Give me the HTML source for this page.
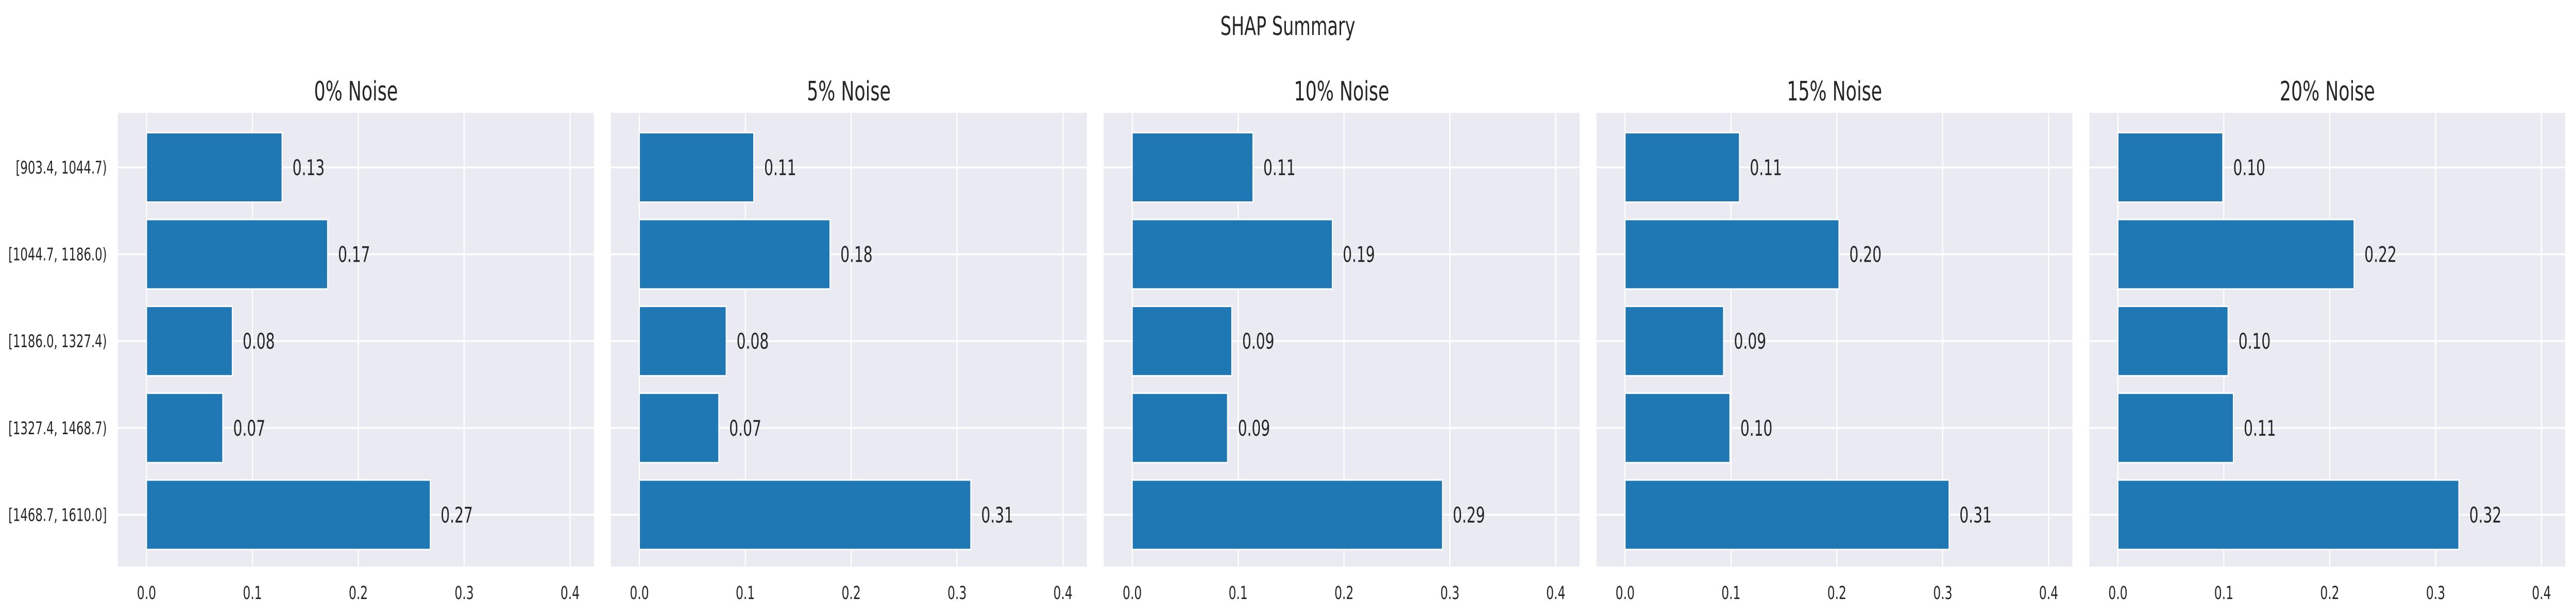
<!DOCTYPE html>
<html><head><meta charset="utf-8"><style>
html,body{margin:0;padding:0;background:#fff;overflow:hidden;width:100vw;height:100vh;}
svg{display:block;width:100vw;height:100vh;font-family:"DejaVu Sans","Liberation Sans",sans-serif;}
</style></head><body>
<svg id="chart" viewBox="0 0 7469 1194" preserveAspectRatio="none" xmlns="http://www.w3.org/2000/svg">
<text x="3734" y="68" text-anchor="middle" font-size="50" fill="#262626">SHAP Summary</text>
</svg>
<script>
const categories = ["[903.4, 1044.7)", "[1044.7, 1186.0)", "[1186.0, 1327.4)", "[1327.4, 1468.7)", "[1468.7, 1610.0]"];
const panelTitles = ["0% Noise", "5% Noise", "10% Noise", "15% Noise", "20% Noise"];
const noise0 = [0.128, 0.171, 0.081, 0.072, 0.268];
const noise5 = [0.108, 0.180, 0.082, 0.075, 0.313];
const noise10 = [0.114, 0.189, 0.094, 0.090, 0.293];
const noise15 = [0.108, 0.202, 0.093, 0.099, 0.306];
const noise20 = [0.099, 0.223, 0.104, 0.109, 0.322];
const xTicks = [0.0, 0.1, 0.2, 0.3, 0.4];
const xTickLabels = ["0.0", "0.1", "0.2", "0.3", "0.4"];

const series = [noise0, noise5, noise10, noise15, noise20];
const NS = "http://www.w3.org/2000/svg";
const svg = document.getElementById("chart");
const axTop = 219, axBottom = 1100, axW = 1380, panelStep = 1429, firstLeft = 342;
const xMin = -0.027, xMax = 0.4225;
const rowTop = 325, rowStep = 168.6, barH = 135;

function mk(tag, attrs) {
  const e = document.createElementNS(NS, tag);
  for (const k in attrs) e.setAttribute(k, attrs[k]);
  svg.appendChild(e);
  return e;
}

series.forEach((vals, p) => {
  const left = firstLeft + p * panelStep;
  const xs = v => left + (v - xMin) / (xMax - xMin) * axW;
  const ys = i => rowTop + i * rowStep;

  const bg = mk("rect", {x: left, y: axTop, width: axW, height: axBottom - axTop, fill: "#eaeaf2"});
  
  

  xTicks.forEach((t, k) => {
    const gl = mk("line", {x1: xs(t), x2: xs(t), y1: axTop, y2: axBottom, stroke: "#fff", "stroke-width": 3.5});
    
    
    const tl = mk("text", {x: xs(t), y: 1163, "text-anchor": "middle", "font-size": 35, fill: "#262626"});
    tl.textContent = xTickLabels[k];
    
    
  });
  categories.forEach((c, i) => {
    const gl = mk("line", {x1: left, x2: left + axW, y1: ys(i), y2: ys(i), stroke: "#fff", "stroke-width": 3.5});
    
    
    if (p === 0) {
      const yl = mk("text", {x: 310, y: ys(i) + 12, "text-anchor": "end", "font-size": 34, fill: "#262626"});
      yl.textContent = c;
      
      
    }
  });
  vals.forEach((v, i) => {
    const b = mk("rect", {x: xs(0), y: ys(i) - barH / 2, width: xs(v) - xs(0), height: barH, fill: "#1f77b4", stroke: "#fff", "stroke-width": 3});
    
    
    const vl = mk("text", {x: xs(v) + 30, y: ys(i) + 15, "font-size": 42, fill: "#262626"});
    vl.textContent = v.toFixed(2);
    
    
  });
  const tt = mk("text", {x: left + axW / 2, y: 195, "text-anchor": "middle", "font-size": 52, fill: "#262626"});
  tt.textContent = panelTitles[p];
  
  
});
</script>
</body></html>
